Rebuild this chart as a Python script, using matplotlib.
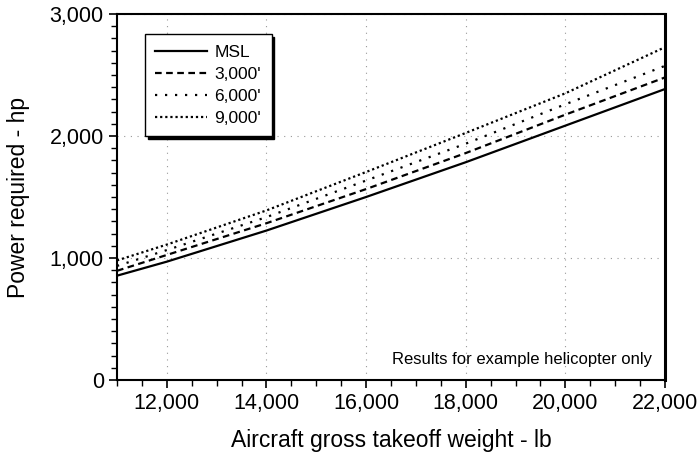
import matplotlib
matplotlib.use("Agg")
import matplotlib.pyplot as plt
from matplotlib.ticker import MultipleLocator, FuncFormatter

plt.rcParams['font.family'] = ['Liberation Sans', 'DejaVu Sans']

weights = [11000, 12000, 14000, 16000, 18000, 20000, 22000]
power_msl = [855, 970, 1225, 1500, 1785, 2085, 2385]
power_3000 = [895, 1025, 1285, 1565, 1860, 2175, 2480]
power_6000 = [935, 1065, 1335, 1635, 1937, 2260, 2575]
power_9000 = [980, 1110, 1390, 1705, 2025, 2350, 2728]
series_labels = ["MSL", "3,000'", "6,000'", "9,000'"]

fig = plt.figure(figsize=(7.0, 4.59), dpi=100)
ax = fig.add_axes([117/700, 79/459, 548/700, 366/459])

styles = ['-', (0, (3, 2)), (0, (1, 3.5)), (0, (1, 1.3))]
for vals, ls, lab in zip([power_msl, power_3000, power_6000, power_9000], styles, series_labels):
    ax.plot(weights, vals, color='black', linestyle=ls, linewidth=1.6, label=lab)

ax.set_xlim(11000, 22000)
ax.set_ylim(0, 3000)
ax.xaxis.set_major_locator(MultipleLocator(2000))
ax.xaxis.set_minor_locator(MultipleLocator(500))
ax.yaxis.set_major_locator(MultipleLocator(1000))
ax.yaxis.set_minor_locator(MultipleLocator(100))
fmt = FuncFormatter(lambda v, p: f"{int(v):,}")
ax.xaxis.set_major_formatter(fmt)
ax.yaxis.set_major_formatter(fmt)
ax.tick_params(which='major', direction='out', length=6, width=1.2, labelsize=15.5, colors='black')
ax.tick_params(which='minor', direction='out', length=4, width=1.0)
ax.grid(True, which='major', linestyle=(0, (1, 5)), color='#999999', linewidth=0.8)

for side in ['left', 'bottom', 'top']:
    ax.spines[side].set_linewidth(1.5)
ax.spines['right'].set_linewidth(2.2)

ax.set_xlabel("Aircraft gross takeoff weight - lb", fontsize=16.5, labelpad=11)
ax.set_ylabel("Power required - hp", fontsize=16.5, labelpad=14)

leg = ax.legend(loc='upper left', bbox_to_anchor=(0.051, 0.945), borderaxespad=0,
                fontsize=12.5, handlelength=3.0, fancybox=False, edgecolor='black',
                framealpha=1, shadow={'color': 'black', 'alpha': 1},
                borderpad=0.6, labelspacing=0.4, handletextpad=0.4)
leg.get_frame().set_linewidth(1.0)

ax.text(0.976, 0.055, "Results for example helicopter only", transform=ax.transAxes,
        ha='right', va='center', fontsize=12)

fig.savefig("out.png", dpi=100)
